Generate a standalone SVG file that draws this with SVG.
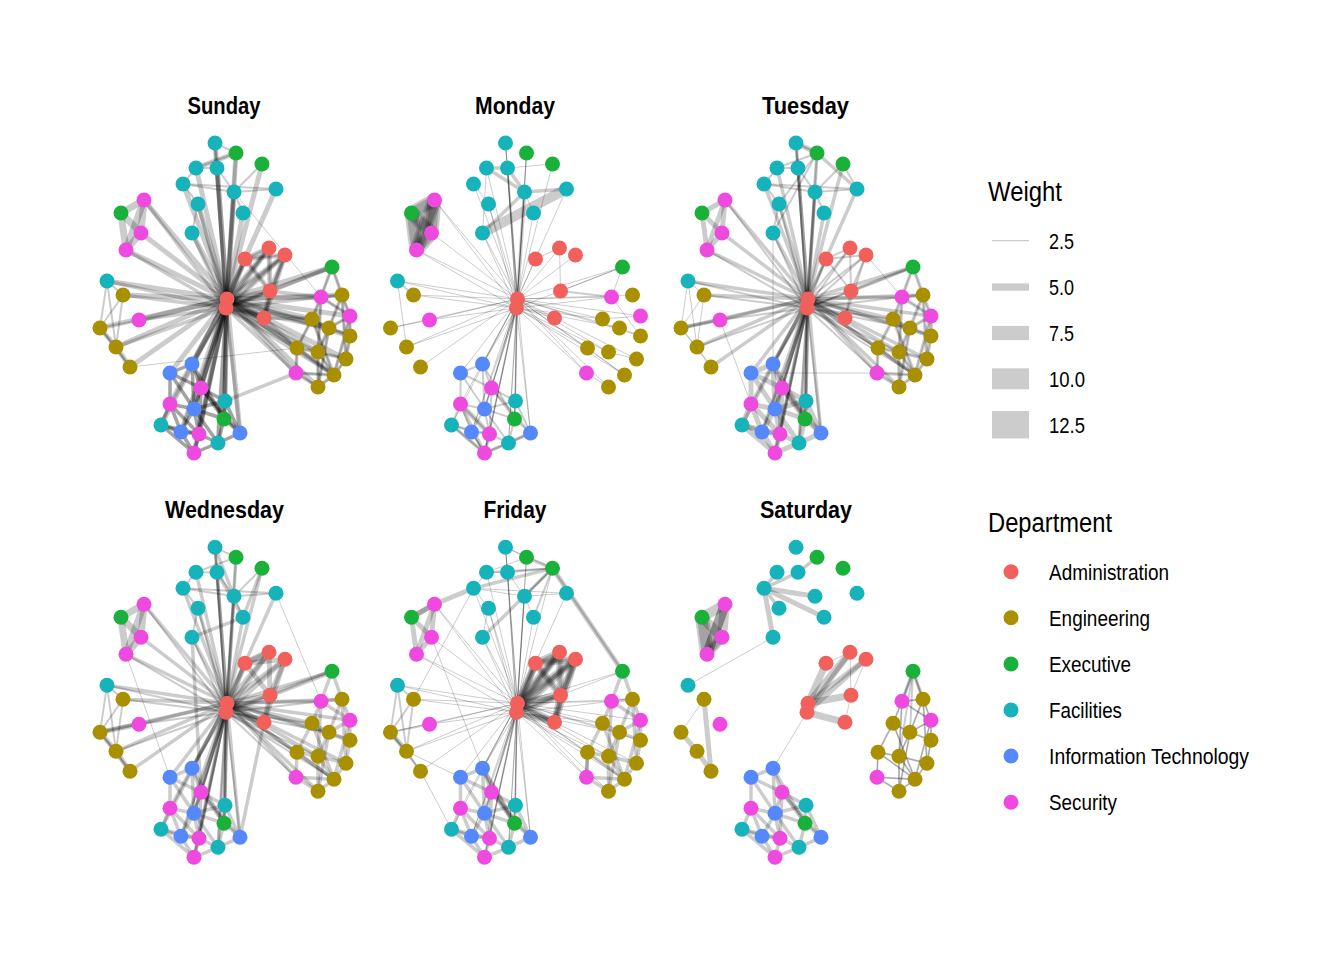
<svg xmlns="http://www.w3.org/2000/svg" xmlns:xlink="http://www.w3.org/1999/xlink" width="1344" height="960" viewBox="0 0 1344 960">
<style>
.ed use,.ed path{fill:none;stroke:#000;stroke-opacity:.2;stroke-linecap:butt}
.e0{stroke-width:1}.e1{stroke-width:2}.e2{stroke-width:3.5}.e3{stroke-width:5}.e4{stroke-width:7}.e5{stroke-width:10}.e6{stroke-width:14}
circle{r:7.5px}
.ad{fill:#F2605B}.en{fill:#A89000}.ex{fill:#1AB13A}.fa{fill:#16B4BA}.it{fill:#5589FB}.se{fill:#EF4ADF}
.ti{font-family:"Liberation Sans",Arial,sans-serif;font-weight:bold;font-size:24px;text-anchor:middle;fill:#000}
.lt{font-family:"Liberation Sans",Arial,sans-serif;font-size:27px;fill:#000}
.ll{font-family:"Liberation Sans",Arial,sans-serif;font-size:22px;fill:#000}
.key{fill:#CCCCCC}
</style>
<defs>
<g id="S5">
<path d="M227 299L215 143"/><path d="M227 299L236 153"/><path d="M227 299L262 164"/><path d="M227 299L196 168"/><path d="M227 299L217 168"/><path d="M227 299L183 184"/><path d="M227 299L234 192"/><path d="M227 299L276 189"/><path d="M227 299L198 204"/><path d="M227 299L243 213"/><path d="M227 299L192 233"/>
<path d="M227 299L144 200"/><path d="M227 299L141 233"/><path d="M227 299L126 250"/>
<path d="M227 299L107 281"/><path d="M227 299L123 295"/><path d="M227 299L139 320"/><path d="M227 299L100 328"/><path d="M227 299L116 347"/><path d="M227 299L130 367"/>
<path d="M227 299L332 267"/><path d="M227 299L321 297"/><path d="M227 299L342 295"/><path d="M227 299L350 316"/><path d="M227 299L312 319"/><path d="M227 299L329 328"/><path d="M227 299L350 336"/><path d="M227 299L297 348"/><path d="M227 299L318 352"/><path d="M227 299L346 359"/><path d="M227 299L334 375"/><path d="M227 299L318 387"/><path d="M227 299L296 373"/>
<path d="M227 299L192 364"/><path d="M227 299L170 373"/><path d="M227 299L201 388"/><path d="M227 299L225 401"/><path d="M227 299L170 404"/><path d="M227 299L194 409"/><path d="M227 299L224 419"/><path d="M227 299L161 425"/><path d="M227 299L181 432"/><path d="M227 299L199 434"/><path d="M227 299L240 433"/><path d="M227 299L218 443"/><path d="M227 299L194 453"/>
</g>
<g id="S6">
<path d="M226 308L215 143"/><path d="M226 308L236 153"/><path d="M226 308L217 168"/><path d="M226 308L234 192"/><path d="M226 308L198 204"/><path d="M226 308L192 233"/><path d="M226 308L144 200"/><path d="M226 308L126 250"/><path d="M226 308L107 281"/><path d="M226 308L123 295"/><path d="M226 308L139 320"/><path d="M226 308L116 347"/><path d="M226 308L332 267"/><path d="M226 308L321 297"/><path d="M226 308L312 319"/><path d="M226 308L329 328"/><path d="M226 308L297 348"/><path d="M226 308L318 352"/><path d="M226 308L334 375"/><path d="M226 308L296 373"/><path d="M226 308L192 364"/><path d="M226 308L201 388"/><path d="M226 308L225 401"/><path d="M226 308L194 409"/><path d="M226 308L224 419"/><path d="M226 308L181 432"/><path d="M226 308L199 434"/><path d="M226 308L240 433"/><path d="M226 308L218 443"/><path d="M226 308L194 453"/>
</g>
<g id="ADM">
<path d="M227 299L245 259"/><path d="M227 299L269 248"/><path d="M227 299L285 255"/><path d="M227 299L270 291"/><path d="M227 299L264 318"/><path d="M226 308L245 259"/><path d="M226 308L269 248"/><path d="M226 308L285 255"/><path d="M226 308L270 291"/><path d="M226 308L264 318"/><path d="M245 259L269 248"/><path d="M245 259L285 255"/><path d="M245 259L270 291"/><path d="M269 248L270 291"/><path d="M285 255L270 291"/><path d="M270 291L264 318"/><path d="M285 255L264 318"/>
</g>
<g id="TOP">
<path d="M215 143L236 153"/><path d="M196 168L236 153"/><path d="M196 168L217 168"/><path d="M215 143L217 168"/><path d="M217 168L234 192"/><path d="M183 184L234 192"/><path d="M183 184L276 189"/><path d="M196 168L183 184"/><path d="M234 192L262 164"/><path d="M234 192L276 189"/><path d="M183 184L198 204"/><path d="M234 192L243 213"/><path d="M198 204L192 233"/>
</g>
<g id="LG">
<path d="M144 200L121 213"/><path d="M121 213L126 250"/><path d="M144 200L141 233"/><path d="M141 233L126 250"/><path d="M121 213L141 233"/><path d="M144 200L126 250"/>
</g>
<g id="LE">
<path d="M107 281L123 295"/><path d="M107 281L100 328"/><path d="M107 281L116 347"/><path d="M123 295L116 347"/><path d="M100 328L116 347"/><path d="M116 347L130 367"/><path d="M100 328L139 320"/><path d="M123 295L100 328"/><path d="M100 328L130 367"/>
</g>
<g id="RG">
<path d="M332 267L321 297"/><path d="M332 267L342 295"/><path d="M321 297L342 295"/><path d="M321 297L312 319"/><path d="M342 295L350 316"/><path d="M350 316L350 336"/><path d="M312 319L329 328"/><path d="M329 328L350 336"/><path d="M329 328L318 352"/><path d="M350 336L346 359"/><path d="M312 319L297 348"/><path d="M297 348L318 352"/><path d="M318 352L346 359"/><path d="M318 352L334 375"/><path d="M346 359L334 375"/><path d="M334 375L318 387"/><path d="M296 373L318 387"/><path d="M297 348L296 373"/><path d="M321 297L318 352"/><path d="M342 295L346 359"/><path d="M350 316L334 375"/><path d="M312 319L334 375"/><path d="M329 328L318 387"/><path d="M321 297L350 316"/><path d="M342 295L329 328"/><path d="M350 316L329 328"/><path d="M297 348L334 375"/><path d="M318 352L318 387"/><path d="M296 373L334 375"/>
</g>
<g id="BT">
<path d="M192 364L170 373"/><path d="M192 364L201 388"/><path d="M170 373L170 404"/><path d="M201 388L225 401"/><path d="M201 388L194 409"/><path d="M170 404L194 409"/><path d="M194 409L224 419"/><path d="M194 409L199 434"/><path d="M170 404L161 425"/><path d="M161 425L181 432"/><path d="M181 432L199 434"/><path d="M199 434L218 443"/><path d="M218 443L240 433"/><path d="M224 419L240 433"/><path d="M199 434L194 453"/><path d="M181 432L194 453"/><path d="M225 401L224 419"/><path d="M170 373L194 409"/><path d="M192 364L194 409"/><path d="M201 388L199 434"/><path d="M225 401L194 409"/><path d="M170 404L181 432"/><path d="M224 419L218 443"/><path d="M201 388L224 419"/><path d="M194 409L218 443"/><path d="M161 425L199 434"/><path d="M170 404L199 434"/><path d="M170 373L201 388"/><path d="M225 401L240 433"/><path d="M194 409L181 432"/><path d="M161 425L194 453"/><path d="M218 443L194 453"/><path d="M192 364L224 419"/><path d="M201 388L240 433"/>
</g>
</defs>
<rect width="1344" height="960" fill="#fff"/>
<g id="titles">
<text class="ti" x="224" y="114" textLength="73" lengthAdjust="spacingAndGlyphs">Sunday</text>
<text class="ti" x="515" y="114" textLength="80" lengthAdjust="spacingAndGlyphs">Monday</text>
<text class="ti" x="805.5" y="114" textLength="87" lengthAdjust="spacingAndGlyphs">Tuesday</text>
<text class="ti" x="224.5" y="518" textLength="119" lengthAdjust="spacingAndGlyphs">Wednesday</text>
<text class="ti" x="515" y="518" textLength="63" lengthAdjust="spacingAndGlyphs">Friday</text>
<text class="ti" x="806" y="518" textLength="92" lengthAdjust="spacingAndGlyphs">Saturday</text>
</g>
<!-- SUNDAY -->
<g id="sunday-edges" class="ed">
<use href="#S5" class="e3"/><use href="#S6" class="e2"/><use href="#ADM" class="e3"/><use href="#ADM" class="e1"/><use href="#TOP" class="e1"/><use href="#LG" class="e4"/><use href="#LE" class="e1"/><use href="#RG" class="e2"/><use href="#RG" class="e1"/><use href="#BT" class="e2"/><use href="#BT" class="e2"/>
<path class="e3" d="M196 168L236 153"/><path class="e3" d="M100 328L116 347"/><path class="e3" d="M116 347L130 367"/><path class="e3" d="M270 291L332 267"/><path class="e2" d="M270 291L321 297"/><path class="e2" d="M264 318L312 319"/><path class="e2" d="M264 318L297 348"/><path class="e0" d="M234 192L321 297"/><path class="e0" d="M130 367L297 348"/><path class="e2" d="M225 401L296 373"/>
</g>
<g id="sunday-nodes">
<g id="su-T1"><circle class="fa" cx="215" cy="143"/></g><g id="su-G1"><circle class="ex" cx="236" cy="153"/></g><g id="su-G2"><circle class="ex" cx="262" cy="164"/></g><g id="su-T2"><circle class="fa" cx="196" cy="168"/></g><g id="su-T3"><circle class="fa" cx="217" cy="168"/></g><g id="su-T4"><circle class="fa" cx="183" cy="184"/></g><g id="su-T5"><circle class="fa" cx="234" cy="192"/></g><g id="su-T6"><circle class="fa" cx="276" cy="189"/></g><g id="su-T7"><circle class="fa" cx="198" cy="204"/></g><g id="su-T8"><circle class="fa" cx="243" cy="213"/></g><g id="su-T9"><circle class="fa" cx="192" cy="233"/></g>
<g id="su-M1"><circle class="se" cx="144" cy="200"/></g><g id="su-G3"><circle class="ex" cx="121" cy="213"/></g><g id="su-M2"><circle class="se" cx="141" cy="233"/></g><g id="su-M3"><circle class="se" cx="126" cy="250"/></g>
<g id="su-T10"><circle class="fa" cx="107" cy="281"/></g><g id="su-E1"><circle class="en" cx="123" cy="295"/></g><g id="su-M4"><circle class="se" cx="139" cy="320"/></g><g id="su-E2"><circle class="en" cx="100" cy="328"/></g><g id="su-E3"><circle class="en" cx="116" cy="347"/></g><g id="su-E4"><circle class="en" cx="130" cy="367"/></g>
<g id="su-A1"><circle class="ad" cx="245" cy="259"/></g><g id="su-A2"><circle class="ad" cx="269" cy="248"/></g><g id="su-A3"><circle class="ad" cx="285" cy="255"/></g><g id="su-A4"><circle class="ad" cx="270" cy="291"/></g><g id="su-A5"><circle class="ad" cx="227" cy="299"/></g><g id="su-A6"><circle class="ad" cx="226" cy="308"/></g><g id="su-A7"><circle class="ad" cx="264" cy="318"/></g>
<g id="su-G4"><circle class="ex" cx="332" cy="267"/></g><g id="su-M5"><circle class="se" cx="321" cy="297"/></g><g id="su-E5"><circle class="en" cx="342" cy="295"/></g><g id="su-M6"><circle class="se" cx="350" cy="316"/></g><g id="su-E6"><circle class="en" cx="312" cy="319"/></g><g id="su-E7"><circle class="en" cx="329" cy="328"/></g><g id="su-E8"><circle class="en" cx="350" cy="336"/></g><g id="su-E9"><circle class="en" cx="297" cy="348"/></g><g id="su-E10"><circle class="en" cx="318" cy="352"/></g><g id="su-E11"><circle class="en" cx="346" cy="359"/></g><g id="su-E12"><circle class="en" cx="334" cy="375"/></g><g id="su-E13"><circle class="en" cx="318" cy="387"/></g><g id="su-M7"><circle class="se" cx="296" cy="373"/></g>
<g id="su-B1"><circle class="it" cx="192" cy="364"/></g><g id="su-B2"><circle class="it" cx="170" cy="373"/></g><g id="su-M8"><circle class="se" cx="201" cy="388"/></g><g id="su-T11"><circle class="fa" cx="225" cy="401"/></g><g id="su-M9"><circle class="se" cx="170" cy="404"/></g><g id="su-B3"><circle class="it" cx="194" cy="409"/></g><g id="su-G5"><circle class="ex" cx="224" cy="419"/></g><g id="su-T12"><circle class="fa" cx="161" cy="425"/></g><g id="su-B4"><circle class="it" cx="181" cy="432"/></g><g id="su-M10"><circle class="se" cx="199" cy="434"/></g><g id="su-B5"><circle class="it" cx="240" cy="433"/></g><g id="su-T13"><circle class="fa" cx="218" cy="443"/></g><g id="su-M11"><circle class="se" cx="194" cy="453"/></g>
</g>
<!-- MONDAY -->
<g transform="translate(290.5,0)">
<g id="monday-edges" class="ed">
<use href="#S5" class="e0"/><use href="#S6" class="e0"/><use href="#LG" class="e6"/><use href="#LG" class="e5"/><use href="#BT" class="e1"/>
<path class="e0" d="M227 299L245 259"/><path class="e0" d="M227 299L269 248"/><path class="e0" d="M227 299L285 255"/><path class="e0" d="M269 248L270 291"/><path class="e0" d="M245 259L269 248"/><path class="e0" d="M270 291L332 267"/><path class="e1" d="M270 291L321 297"/><path class="e0" d="M226 308L264 318"/>
<path class="e5" d="M192 233L276 189"/><path class="e2" d="M192 233L234 192"/><path class="e2" d="M196 168L234 192"/><path class="e2" d="M217 168L234 192"/><path class="e2" d="M196 168L217 168"/><path class="e2" d="M234 192L276 189"/><path class="e2" d="M227 299L234 192"/><path class="e1" d="M227 299L217 168"/><path class="e0" d="M262 164L217 168"/><path class="e0" d="M196 168L192 233"/><path class="e0" d="M183 184L198 204"/><path class="e0" d="M215 143L217 168"/><path class="e0" d="M234 192L243 213"/><path class="e0" d="M236 153L234 192"/>
<path class="e1" d="M107 281L123 295"/><path class="e0" d="M107 281L116 347"/><path class="e0" d="M100 328L139 320"/>
<path class="e0" d="M332 267L321 297"/><path class="e0" d="M321 297L350 336"/><path class="e0" d="M312 319L350 316"/><path class="e0" d="M329 328L350 336"/><path class="e0" d="M318 352L346 359"/><path class="e0" d="M296 373L318 387"/><path class="e0" d="M297 348L334 375"/>
<path class="e3" d="M170 404L199 434"/><path class="e2" d="M194 453L161 425"/><path class="e1" d="M194 453L181 432"/><path class="e2" d="M194 453L170 404"/><path class="e2" d="M194 453L218 443"/><path class="e2" d="M194 453L199 434"/><path class="e2" d="M218 443L240 433"/>
</g>
<g id="monday-nodes">
<g id="mo-T1"><circle class="fa" cx="215" cy="143"/></g><g id="mo-G1"><circle class="ex" cx="236" cy="153"/></g><g id="mo-G2"><circle class="ex" cx="262" cy="164"/></g><g id="mo-T2"><circle class="fa" cx="196" cy="168"/></g><g id="mo-T3"><circle class="fa" cx="217" cy="168"/></g><g id="mo-T4"><circle class="fa" cx="183" cy="184"/></g><g id="mo-T5"><circle class="fa" cx="234" cy="192"/></g><g id="mo-T6"><circle class="fa" cx="276" cy="189"/></g><g id="mo-T7"><circle class="fa" cx="198" cy="204"/></g><g id="mo-T8"><circle class="fa" cx="243" cy="213"/></g><g id="mo-T9"><circle class="fa" cx="192" cy="233"/></g>
<g id="mo-M1"><circle class="se" cx="144" cy="200"/></g><g id="mo-G3"><circle class="ex" cx="121" cy="213"/></g><g id="mo-M2"><circle class="se" cx="141" cy="233"/></g><g id="mo-M3"><circle class="se" cx="126" cy="250"/></g>
<g id="mo-T10"><circle class="fa" cx="107" cy="281"/></g><g id="mo-E1"><circle class="en" cx="123" cy="295"/></g><g id="mo-M4"><circle class="se" cx="139" cy="320"/></g><g id="mo-E2"><circle class="en" cx="100" cy="328"/></g><g id="mo-E3"><circle class="en" cx="116" cy="347"/></g><g id="mo-E4"><circle class="en" cx="130" cy="367"/></g>
<g id="mo-A1"><circle class="ad" cx="245" cy="259"/></g><g id="mo-A2"><circle class="ad" cx="269" cy="248"/></g><g id="mo-A3"><circle class="ad" cx="285" cy="255"/></g><g id="mo-A4"><circle class="ad" cx="270" cy="291"/></g><g id="mo-A5"><circle class="ad" cx="227" cy="299"/></g><g id="mo-A6"><circle class="ad" cx="226" cy="308"/></g><g id="mo-A7"><circle class="ad" cx="264" cy="318"/></g>
<g id="mo-G4"><circle class="ex" cx="332" cy="267"/></g><g id="mo-M5"><circle class="se" cx="321" cy="297"/></g><g id="mo-E5"><circle class="en" cx="342" cy="295"/></g><g id="mo-M6"><circle class="se" cx="350" cy="316"/></g><g id="mo-E6"><circle class="en" cx="312" cy="319"/></g><g id="mo-E7"><circle class="en" cx="329" cy="328"/></g><g id="mo-E8"><circle class="en" cx="350" cy="336"/></g><g id="mo-E9"><circle class="en" cx="297" cy="348"/></g><g id="mo-E10"><circle class="en" cx="318" cy="352"/></g><g id="mo-E11"><circle class="en" cx="346" cy="359"/></g><g id="mo-E12"><circle class="en" cx="334" cy="375"/></g><g id="mo-E13"><circle class="en" cx="318" cy="387"/></g><g id="mo-M7"><circle class="se" cx="296" cy="373"/></g>
<g id="mo-B1"><circle class="it" cx="192" cy="364"/></g><g id="mo-B2"><circle class="it" cx="170" cy="373"/></g><g id="mo-M8"><circle class="se" cx="201" cy="388"/></g><g id="mo-T11"><circle class="fa" cx="225" cy="401"/></g><g id="mo-M9"><circle class="se" cx="170" cy="404"/></g><g id="mo-B3"><circle class="it" cx="194" cy="409"/></g><g id="mo-G5"><circle class="ex" cx="224" cy="419"/></g><g id="mo-T12"><circle class="fa" cx="161" cy="425"/></g><g id="mo-B4"><circle class="it" cx="181" cy="432"/></g><g id="mo-M10"><circle class="se" cx="199" cy="434"/></g><g id="mo-B5"><circle class="it" cx="240" cy="433"/></g><g id="mo-T13"><circle class="fa" cx="218" cy="443"/></g><g id="mo-M11"><circle class="se" cx="194" cy="453"/></g>
</g>
</g>
<!-- TUESDAY -->
<g transform="translate(581,0)">
<g id="tuesday-edges" class="ed">
<use href="#S5" class="e2"/><use href="#S6" class="e1"/><use href="#ADM" class="e1"/><use href="#TOP" class="e1"/><use href="#LG" class="e3"/><use href="#LE" class="e0"/><use href="#RG" class="e2"/><use href="#RG" class="e0"/><use href="#BT" class="e3"/>
<path class="e3" d="M215 143L236 153"/><path class="e2" d="M236 153L276 189"/><path class="e1" d="M262 164L276 189"/><path class="e1" d="M236 153L192 233"/><path class="e1" d="M236 153L198 204"/><path class="e0" d="M170 373L296 373"/><path class="e0" d="M192 233L192 364"/><path class="e0" d="M139 320L170 404"/><path class="e0" d="M285 255L321 297"/><path class="e2" d="M100 328L139 320"/><path class="e2" d="M270 291L332 267"/>
</g>
<g id="tuesday-nodes">
<g id="tu-T1"><circle class="fa" cx="215" cy="143"/></g><g id="tu-G1"><circle class="ex" cx="236" cy="153"/></g><g id="tu-G2"><circle class="ex" cx="262" cy="164"/></g><g id="tu-T2"><circle class="fa" cx="196" cy="168"/></g><g id="tu-T3"><circle class="fa" cx="217" cy="168"/></g><g id="tu-T4"><circle class="fa" cx="183" cy="184"/></g><g id="tu-T5"><circle class="fa" cx="234" cy="192"/></g><g id="tu-T6"><circle class="fa" cx="276" cy="189"/></g><g id="tu-T7"><circle class="fa" cx="198" cy="204"/></g><g id="tu-T8"><circle class="fa" cx="243" cy="213"/></g><g id="tu-T9"><circle class="fa" cx="192" cy="233"/></g>
<g id="tu-M1"><circle class="se" cx="144" cy="200"/></g><g id="tu-G3"><circle class="ex" cx="121" cy="213"/></g><g id="tu-M2"><circle class="se" cx="141" cy="233"/></g><g id="tu-M3"><circle class="se" cx="126" cy="250"/></g>
<g id="tu-T10"><circle class="fa" cx="107" cy="281"/></g><g id="tu-E1"><circle class="en" cx="123" cy="295"/></g><g id="tu-M4"><circle class="se" cx="139" cy="320"/></g><g id="tu-E2"><circle class="en" cx="100" cy="328"/></g><g id="tu-E3"><circle class="en" cx="116" cy="347"/></g><g id="tu-E4"><circle class="en" cx="130" cy="367"/></g>
<g id="tu-A1"><circle class="ad" cx="245" cy="259"/></g><g id="tu-A2"><circle class="ad" cx="269" cy="248"/></g><g id="tu-A3"><circle class="ad" cx="285" cy="255"/></g><g id="tu-A4"><circle class="ad" cx="270" cy="291"/></g><g id="tu-A5"><circle class="ad" cx="227" cy="299"/></g><g id="tu-A6"><circle class="ad" cx="226" cy="308"/></g><g id="tu-A7"><circle class="ad" cx="264" cy="318"/></g>
<g id="tu-G4"><circle class="ex" cx="332" cy="267"/></g><g id="tu-M5"><circle class="se" cx="321" cy="297"/></g><g id="tu-E5"><circle class="en" cx="342" cy="295"/></g><g id="tu-M6"><circle class="se" cx="350" cy="316"/></g><g id="tu-E6"><circle class="en" cx="312" cy="319"/></g><g id="tu-E7"><circle class="en" cx="329" cy="328"/></g><g id="tu-E8"><circle class="en" cx="350" cy="336"/></g><g id="tu-E9"><circle class="en" cx="297" cy="348"/></g><g id="tu-E10"><circle class="en" cx="318" cy="352"/></g><g id="tu-E11"><circle class="en" cx="346" cy="359"/></g><g id="tu-E12"><circle class="en" cx="334" cy="375"/></g><g id="tu-E13"><circle class="en" cx="318" cy="387"/></g><g id="tu-M7"><circle class="se" cx="296" cy="373"/></g>
<g id="tu-B1"><circle class="it" cx="192" cy="364"/></g><g id="tu-B2"><circle class="it" cx="170" cy="373"/></g><g id="tu-M8"><circle class="se" cx="201" cy="388"/></g><g id="tu-T11"><circle class="fa" cx="225" cy="401"/></g><g id="tu-M9"><circle class="se" cx="170" cy="404"/></g><g id="tu-B3"><circle class="it" cx="194" cy="409"/></g><g id="tu-G5"><circle class="ex" cx="224" cy="419"/></g><g id="tu-T12"><circle class="fa" cx="161" cy="425"/></g><g id="tu-B4"><circle class="it" cx="181" cy="432"/></g><g id="tu-M10"><circle class="se" cx="199" cy="434"/></g><g id="tu-B5"><circle class="it" cx="240" cy="433"/></g><g id="tu-T13"><circle class="fa" cx="218" cy="443"/></g><g id="tu-M11"><circle class="se" cx="194" cy="453"/></g>
</g>
</g>
<!-- WEDNESDAY -->
<g transform="translate(0,404.3)">
<g id="wednesday-edges" class="ed">
<use href="#S5" class="e2"/><use href="#S6" class="e1"/><use href="#ADM" class="e3"/><use href="#TOP" class="e1"/><use href="#LG" class="e4"/><use href="#LE" class="e1"/><use href="#RG" class="e2"/><use href="#BT" class="e2"/>
<path class="e2" d="M192 233L201 388"/><path class="e2" d="M264 318L240 433"/><path class="e0" d="M126 250L170 373"/><path class="e0" d="M276 189L321 297"/><path class="e3" d="M270 291L332 267"/><path class="e4" d="M245 259L269 248"/><path class="e2" d="M215 143L234 192"/><path class="e2" d="M217 168L243 213"/><path class="e2" d="M243 213L192 233"/><path class="e2" d="M262 164L243 213"/><path class="e3" d="M100 328L116 347"/><path class="e3" d="M116 347L130 367"/><path class="e3" d="M100 328L139 320"/>
</g>
<g id="wednesday-nodes">
<g id="we-T1"><circle class="fa" cx="215" cy="143"/></g><g id="we-G1"><circle class="ex" cx="236" cy="153"/></g><g id="we-G2"><circle class="ex" cx="262" cy="164"/></g><g id="we-T2"><circle class="fa" cx="196" cy="168"/></g><g id="we-T3"><circle class="fa" cx="217" cy="168"/></g><g id="we-T4"><circle class="fa" cx="183" cy="184"/></g><g id="we-T5"><circle class="fa" cx="234" cy="192"/></g><g id="we-T6"><circle class="fa" cx="276" cy="189"/></g><g id="we-T7"><circle class="fa" cx="198" cy="204"/></g><g id="we-T8"><circle class="fa" cx="243" cy="213"/></g><g id="we-T9"><circle class="fa" cx="192" cy="233"/></g>
<g id="we-M1"><circle class="se" cx="144" cy="200"/></g><g id="we-G3"><circle class="ex" cx="121" cy="213"/></g><g id="we-M2"><circle class="se" cx="141" cy="233"/></g><g id="we-M3"><circle class="se" cx="126" cy="250"/></g>
<g id="we-T10"><circle class="fa" cx="107" cy="281"/></g><g id="we-E1"><circle class="en" cx="123" cy="295"/></g><g id="we-M4"><circle class="se" cx="139" cy="320"/></g><g id="we-E2"><circle class="en" cx="100" cy="328"/></g><g id="we-E3"><circle class="en" cx="116" cy="347"/></g><g id="we-E4"><circle class="en" cx="130" cy="367"/></g>
<g id="we-A1"><circle class="ad" cx="245" cy="259"/></g><g id="we-A2"><circle class="ad" cx="269" cy="248"/></g><g id="we-A3"><circle class="ad" cx="285" cy="255"/></g><g id="we-A4"><circle class="ad" cx="270" cy="291"/></g><g id="we-A5"><circle class="ad" cx="227" cy="299"/></g><g id="we-A6"><circle class="ad" cx="226" cy="308"/></g><g id="we-A7"><circle class="ad" cx="264" cy="318"/></g>
<g id="we-G4"><circle class="ex" cx="332" cy="267"/></g><g id="we-M5"><circle class="se" cx="321" cy="297"/></g><g id="we-E5"><circle class="en" cx="342" cy="295"/></g><g id="we-M6"><circle class="se" cx="350" cy="316"/></g><g id="we-E6"><circle class="en" cx="312" cy="319"/></g><g id="we-E7"><circle class="en" cx="329" cy="328"/></g><g id="we-E8"><circle class="en" cx="350" cy="336"/></g><g id="we-E9"><circle class="en" cx="297" cy="348"/></g><g id="we-E10"><circle class="en" cx="318" cy="352"/></g><g id="we-E11"><circle class="en" cx="346" cy="359"/></g><g id="we-E12"><circle class="en" cx="334" cy="375"/></g><g id="we-E13"><circle class="en" cx="318" cy="387"/></g><g id="we-M7"><circle class="se" cx="296" cy="373"/></g>
<g id="we-B1"><circle class="it" cx="192" cy="364"/></g><g id="we-B2"><circle class="it" cx="170" cy="373"/></g><g id="we-M8"><circle class="se" cx="201" cy="388"/></g><g id="we-T11"><circle class="fa" cx="225" cy="401"/></g><g id="we-M9"><circle class="se" cx="170" cy="404"/></g><g id="we-B3"><circle class="it" cx="194" cy="409"/></g><g id="we-G5"><circle class="ex" cx="224" cy="419"/></g><g id="we-T12"><circle class="fa" cx="161" cy="425"/></g><g id="we-B4"><circle class="it" cx="181" cy="432"/></g><g id="we-M10"><circle class="se" cx="199" cy="434"/></g><g id="we-B5"><circle class="it" cx="240" cy="433"/></g><g id="we-T13"><circle class="fa" cx="218" cy="443"/></g><g id="we-M11"><circle class="se" cx="194" cy="453"/></g>
</g>
</g>
<!-- FRIDAY -->
<g transform="translate(290.5,404.3)">
<g id="friday-edges" class="ed">
<use href="#S5" class="e0"/><use href="#S6" class="e0"/><use href="#ADM" class="e4"/><use href="#ADM" class="e2"/><use href="#TOP" class="e0"/><use href="#LG" class="e3"/><use href="#LE" class="e1"/><use href="#RG" class="e2"/><use href="#BT" class="e2"/>
<path class="e3" d="M262 164L332 267"/><path class="e1" d="M262 164L332 267"/><path class="e2" d="M262 164L183 184"/><path class="e3" d="M183 184L144 200"/><path class="e3" d="M144 200L121 213"/><path class="e2" d="M262 164L192 233"/><path class="e1" d="M262 164L196 168"/><path class="e1" d="M262 164L217 168"/><path class="e1" d="M262 164L234 192"/><path class="e1" d="M262 164L243 213"/><path class="e0" d="M262 164L215 143"/><path class="e2" d="M236 153L262 164"/><path class="e3" d="M100 328L116 347"/><path class="e0" d="M116 347L170 373"/><path class="e0" d="M130 367L161 425"/><path class="e0" d="M141 233L192 364"/><path class="e3" d="M192 364L224 419"/><path class="e2" d="M296 373L297 348"/><path class="e0" d="M183 184L123 295"/>
</g>
<g id="friday-nodes">
<g id="fr-T1"><circle class="fa" cx="215" cy="143"/></g><g id="fr-G1"><circle class="ex" cx="236" cy="153"/></g><g id="fr-G2"><circle class="ex" cx="262" cy="164"/></g><g id="fr-T2"><circle class="fa" cx="196" cy="168"/></g><g id="fr-T3"><circle class="fa" cx="217" cy="168"/></g><g id="fr-T4"><circle class="fa" cx="183" cy="184"/></g><g id="fr-T5"><circle class="fa" cx="234" cy="192"/></g><g id="fr-T6"><circle class="fa" cx="276" cy="189"/></g><g id="fr-T7"><circle class="fa" cx="198" cy="204"/></g><g id="fr-T8"><circle class="fa" cx="243" cy="213"/></g><g id="fr-T9"><circle class="fa" cx="192" cy="233"/></g>
<g id="fr-M1"><circle class="se" cx="144" cy="200"/></g><g id="fr-G3"><circle class="ex" cx="121" cy="213"/></g><g id="fr-M2"><circle class="se" cx="141" cy="233"/></g><g id="fr-M3"><circle class="se" cx="126" cy="250"/></g>
<g id="fr-T10"><circle class="fa" cx="107" cy="281"/></g><g id="fr-E1"><circle class="en" cx="123" cy="295"/></g><g id="fr-M4"><circle class="se" cx="139" cy="320"/></g><g id="fr-E2"><circle class="en" cx="100" cy="328"/></g><g id="fr-E3"><circle class="en" cx="116" cy="347"/></g><g id="fr-E4"><circle class="en" cx="130" cy="367"/></g>
<g id="fr-A1"><circle class="ad" cx="245" cy="259"/></g><g id="fr-A2"><circle class="ad" cx="269" cy="248"/></g><g id="fr-A3"><circle class="ad" cx="285" cy="255"/></g><g id="fr-A4"><circle class="ad" cx="270" cy="291"/></g><g id="fr-A5"><circle class="ad" cx="227" cy="299"/></g><g id="fr-A6"><circle class="ad" cx="226" cy="308"/></g><g id="fr-A7"><circle class="ad" cx="264" cy="318"/></g>
<g id="fr-G4"><circle class="ex" cx="332" cy="267"/></g><g id="fr-M5"><circle class="se" cx="321" cy="297"/></g><g id="fr-E5"><circle class="en" cx="342" cy="295"/></g><g id="fr-M6"><circle class="se" cx="350" cy="316"/></g><g id="fr-E6"><circle class="en" cx="312" cy="319"/></g><g id="fr-E7"><circle class="en" cx="329" cy="328"/></g><g id="fr-E8"><circle class="en" cx="350" cy="336"/></g><g id="fr-E9"><circle class="en" cx="297" cy="348"/></g><g id="fr-E10"><circle class="en" cx="318" cy="352"/></g><g id="fr-E11"><circle class="en" cx="346" cy="359"/></g><g id="fr-E12"><circle class="en" cx="334" cy="375"/></g><g id="fr-E13"><circle class="en" cx="318" cy="387"/></g><g id="fr-M7"><circle class="se" cx="296" cy="373"/></g>
<g id="fr-B1"><circle class="it" cx="192" cy="364"/></g><g id="fr-B2"><circle class="it" cx="170" cy="373"/></g><g id="fr-M8"><circle class="se" cx="201" cy="388"/></g><g id="fr-T11"><circle class="fa" cx="225" cy="401"/></g><g id="fr-M9"><circle class="se" cx="170" cy="404"/></g><g id="fr-B3"><circle class="it" cx="194" cy="409"/></g><g id="fr-G5"><circle class="ex" cx="224" cy="419"/></g><g id="fr-T12"><circle class="fa" cx="161" cy="425"/></g><g id="fr-B4"><circle class="it" cx="181" cy="432"/></g><g id="fr-M10"><circle class="se" cx="199" cy="434"/></g><g id="fr-B5"><circle class="it" cx="240" cy="433"/></g><g id="fr-T13"><circle class="fa" cx="218" cy="443"/></g><g id="fr-M11"><circle class="se" cx="194" cy="453"/></g>
</g>
</g>
<!-- SATURDAY -->
<g transform="translate(581,404.3)">
<g id="saturday-edges" class="ed">
<use href="#LG" class="e5"/><use href="#RG" class="e1"/><use href="#RG" class="e0"/><use href="#BT" class="e2"/>
<path class="e6" d="M121 213L126 250"/><path class="e5" d="M144 200L126 250"/><path class="e4" d="M141 233L126 250"/>
<path class="e4" d="M227 299L245 259"/><path class="e4" d="M227 299L269 248"/><path class="e3" d="M227 299L285 255"/><path class="e3" d="M226 308L269 248"/><path class="e3" d="M226 308L285 255"/><path class="e4" d="M227 299L270 291"/><path class="e4" d="M226 308L264 318"/><path class="e0" d="M270 291L264 318"/><path class="e0" d="M269 248L270 291"/><path class="e0" d="M285 255L270 291"/><path class="e0" d="M245 259L269 248"/>
<path class="e2" d="M183 184L217 168"/><path class="e2" d="M217 168L236 153"/><path class="e2" d="M183 184L196 168"/><path class="e3" d="M183 184L234 192"/><path class="e3" d="M183 184L243 213"/><path class="e2" d="M183 184L198 204"/><path class="e3" d="M183 184L192 233"/><path class="e0" d="M192 233L107 281"/>
<path class="e3" d="M123 295L130 367"/><path class="e3" d="M100 328L116 347"/><path class="e3" d="M116 347L130 367"/><path class="e0" d="M123 295L100 328"/>
<path class="e0" d="M226 308L192 364"/><path class="e2" d="M332 267L321 297"/><path class="e2" d="M332 267L342 295"/><path class="e1" d="M332 267L329 328"/><path class="e1" d="M332 267L318 352"/>
</g>
<g id="saturday-nodes">
<g id="sa-T1"><circle class="fa" cx="215" cy="143"/></g><g id="sa-G1"><circle class="ex" cx="236" cy="153"/></g><g id="sa-G2"><circle class="ex" cx="262" cy="164"/></g><g id="sa-T2"><circle class="fa" cx="196" cy="168"/></g><g id="sa-T3"><circle class="fa" cx="217" cy="168"/></g><g id="sa-T4"><circle class="fa" cx="183" cy="184"/></g><g id="sa-T5"><circle class="fa" cx="234" cy="192"/></g><g id="sa-T6"><circle class="fa" cx="276" cy="189"/></g><g id="sa-T7"><circle class="fa" cx="198" cy="204"/></g><g id="sa-T8"><circle class="fa" cx="243" cy="213"/></g><g id="sa-T9"><circle class="fa" cx="192" cy="233"/></g>
<g id="sa-M1"><circle class="se" cx="144" cy="200"/></g><g id="sa-G3"><circle class="ex" cx="121" cy="213"/></g><g id="sa-M2"><circle class="se" cx="141" cy="233"/></g><g id="sa-M3"><circle class="se" cx="126" cy="250"/></g>
<g id="sa-T10"><circle class="fa" cx="107" cy="281"/></g><g id="sa-E1"><circle class="en" cx="123" cy="295"/></g><g id="sa-M4"><circle class="se" cx="139" cy="320"/></g><g id="sa-E2"><circle class="en" cx="100" cy="328"/></g><g id="sa-E3"><circle class="en" cx="116" cy="347"/></g><g id="sa-E4"><circle class="en" cx="130" cy="367"/></g>
<g id="sa-A1"><circle class="ad" cx="245" cy="259"/></g><g id="sa-A2"><circle class="ad" cx="269" cy="248"/></g><g id="sa-A3"><circle class="ad" cx="285" cy="255"/></g><g id="sa-A4"><circle class="ad" cx="270" cy="291"/></g><g id="sa-A5"><circle class="ad" cx="227" cy="299"/></g><g id="sa-A6"><circle class="ad" cx="226" cy="308"/></g><g id="sa-A7"><circle class="ad" cx="264" cy="318"/></g>
<g id="sa-G4"><circle class="ex" cx="332" cy="267"/></g><g id="sa-M5"><circle class="se" cx="321" cy="297"/></g><g id="sa-E5"><circle class="en" cx="342" cy="295"/></g><g id="sa-M6"><circle class="se" cx="350" cy="316"/></g><g id="sa-E6"><circle class="en" cx="312" cy="319"/></g><g id="sa-E7"><circle class="en" cx="329" cy="328"/></g><g id="sa-E8"><circle class="en" cx="350" cy="336"/></g><g id="sa-E9"><circle class="en" cx="297" cy="348"/></g><g id="sa-E10"><circle class="en" cx="318" cy="352"/></g><g id="sa-E11"><circle class="en" cx="346" cy="359"/></g><g id="sa-E12"><circle class="en" cx="334" cy="375"/></g><g id="sa-E13"><circle class="en" cx="318" cy="387"/></g><g id="sa-M7"><circle class="se" cx="296" cy="373"/></g>
<g id="sa-B1"><circle class="it" cx="192" cy="364"/></g><g id="sa-B2"><circle class="it" cx="170" cy="373"/></g><g id="sa-M8"><circle class="se" cx="201" cy="388"/></g><g id="sa-T11"><circle class="fa" cx="225" cy="401"/></g><g id="sa-M9"><circle class="se" cx="170" cy="404"/></g><g id="sa-B3"><circle class="it" cx="194" cy="409"/></g><g id="sa-G5"><circle class="ex" cx="224" cy="419"/></g><g id="sa-T12"><circle class="fa" cx="161" cy="425"/></g><g id="sa-B4"><circle class="it" cx="181" cy="432"/></g><g id="sa-M10"><circle class="se" cx="199" cy="434"/></g><g id="sa-B5"><circle class="it" cx="240" cy="433"/></g><g id="sa-T13"><circle class="fa" cx="218" cy="443"/></g><g id="sa-M11"><circle class="se" cx="194" cy="453"/></g>
</g>
</g>
<!-- LEGEND -->
<g id="legend-weight">
<text class="lt" x="988" y="201" textLength="74" lengthAdjust="spacingAndGlyphs">Weight</text>
<rect class="key" x="992" y="240" width="37" height="1.3"/>
<rect class="key" x="992" y="283.4" width="37" height="7.3"/>
<rect class="key" x="992" y="325.9" width="37" height="14.2"/>
<rect class="key" x="992" y="368.3" width="37" height="21"/>
<rect class="key" x="992" y="411" width="37" height="27.4"/>
<text class="ll" x="1049" y="249" textLength="25" lengthAdjust="spacingAndGlyphs">2.5</text>
<text class="ll" x="1049" y="295" textLength="25" lengthAdjust="spacingAndGlyphs">5.0</text>
<text class="ll" x="1049" y="341" textLength="25" lengthAdjust="spacingAndGlyphs">7.5</text>
<text class="ll" x="1049" y="387" textLength="36" lengthAdjust="spacingAndGlyphs">10.0</text>
<text class="ll" x="1049" y="433" textLength="36" lengthAdjust="spacingAndGlyphs">12.5</text>
</g>
<g id="legend-department">
<text class="lt" x="988" y="532" textLength="124" lengthAdjust="spacingAndGlyphs">Department</text>
<circle class="ad" cx="1011" cy="571.7"/><circle class="en" cx="1011" cy="617.7"/><circle class="ex" cx="1011" cy="664"/><circle class="fa" cx="1011" cy="710"/><circle class="it" cx="1011" cy="756"/><circle class="se" cx="1011" cy="802.3"/>
<text class="ll" x="1049" y="580" textLength="120" lengthAdjust="spacingAndGlyphs">Administration</text>
<text class="ll" x="1049" y="626" textLength="101" lengthAdjust="spacingAndGlyphs">Engineering</text>
<text class="ll" x="1049" y="672" textLength="82" lengthAdjust="spacingAndGlyphs">Executive</text>
<text class="ll" x="1049" y="718" textLength="73" lengthAdjust="spacingAndGlyphs">Facilities</text>
<text class="ll" x="1049" y="764" textLength="200" lengthAdjust="spacingAndGlyphs">Information Technology</text>
<text class="ll" x="1049" y="810" textLength="68" lengthAdjust="spacingAndGlyphs">Security</text>
</g>
</svg>
